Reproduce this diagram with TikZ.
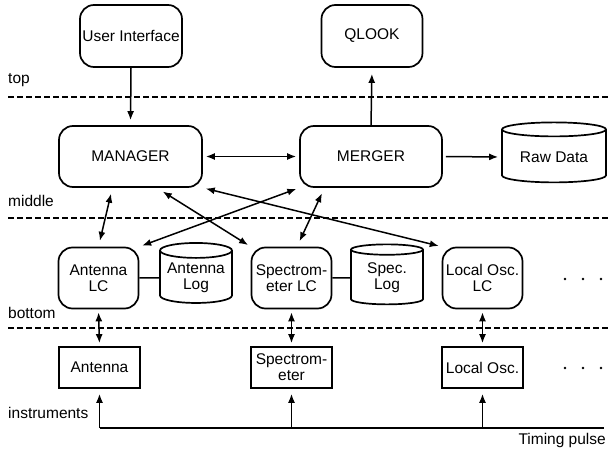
\documentclass[tikz,border=0pt]{standalone}
\usepackage{fontspec}
\setmainfont{Liberation Sans}
\usetikzlibrary{arrows.meta,shapes.geometric}

\begin{document}
\begin{tikzpicture}[x=1pt, y=-1pt,
    every node/.style = {font=\fontsize{15.5}{16}\selectfont},
    proc/.style = {draw, line width=1.7pt, rounded corners=14pt, align=center, inner sep=1pt},
    lc/.style = {proc, minimum width=80pt, minimum height=61pt},
    instr/.style = {draw, line width=1.7pt, align=center, minimum width=81pt, minimum height=41pt, inner sep=1pt},
    store/.style = {draw, cylinder, shape border rotate=90, aspect=0.25, line width=1.7pt, align=center, minimum width=72pt, minimum height=60pt, inner sep=1pt},
    layer/.style = {line width=1.6pt, dash pattern=on 6pt off 3pt},
    lbl/.style = {inner sep=0pt},
    link/.style = {<->, line width=1.5pt, shorten <=3pt, shorten >=3pt},
    >={Latex[length=9pt,width=7pt]}]
    \useasboundingbox (0,0) rectangle (608,449);
    \node[proc, minimum width=102pt, minimum height=62pt] (ui) at (131,36) {User Interface};
    \node[proc, minimum width=101pt, minimum height=62pt] (ql) at (372,36) {QLOOK};
    \node[proc, minimum width=143pt, minimum height=61pt] (mgr) at (130.5,156.5) {MANAGER};
    \node[proc, minimum width=142pt, minimum height=61pt] (mrg) at (371,156.5) {MERGER};
    \node[store, minimum width=104pt, aspect=0.2] (raw) at (554,157) {Raw Data};
    \node[lc] (alc) at (98.5,278) {Antenna\\LC};
    \node[store] (alog) at (196,278) {Antenna\\Log};
    \node[lc] (slc) at (291.5,278) {Spectrom-\\eter LC};
    \node[store] (slog) at (387,278) {Spec.\\Log};
    \node[lc] (lolc) at (482.5,278) {Local Osc.\\LC};
    \node[instr] (ant) at (99.5,367.5) {Antenna};
    \node[instr] (spm) at (291.5,367.5) {Spectrom-\\eter};
    \node[instr] (lo) at (482.5,367.5) {Local Osc.};
    \node[lbl, anchor=base west] (top) at (8,84) {top};
    \node[lbl, anchor=base west] (mid) at (8,207) {middle};
    \node[lbl, anchor=base west] (bot) at (8,318) {bottom};
    \node[lbl, anchor=base west] (ins) at (8,418) {instruments};
    \node[lbl, anchor=base east] (tp) at (606,444) {Timing pulse};
    \coordinate (tl) at (99.5,428);
    \coordinate (tr) at (604,428);
    \draw[layer] (8,97) -- (608,97);
    \draw[layer] (8,218) -- (608,218);
    \draw[layer] (8,328) -- (608,328);
    \foreach \x in {565,583,601} {
        \fill (\x,279) circle (1.4pt);
        \fill (\x,368) circle (1.4pt);
    }
    \draw[->, line width=1.5pt, shorten >=5pt] (ui.south) -- (mgr.north);
    \draw[->, line width=1.5pt, shorten >=6pt] (mrg.north) -- (ql.south);
    \draw[link] (mgr.east) -- (mrg.west);
    \draw[->, line width=1.5pt, shorten <=3pt, shorten >=3pt] (mrg.east) -- (raw.west);
    \draw[link, shorten <=6pt, shorten >=6pt] (mgr.240) -- (alc.north);
    \draw[link] (mrg.south west) -- (alc.north east);
    \draw[link, shorten <=7pt] (mgr.310) -- (slc.north west);
    \draw[link, shorten <=6pt, shorten >=6pt] (mrg.214) -- (slc.80);
    \draw[link] (mgr.south east) -- (lolc.north west);
    \draw[line width=1.5pt] (alc.east) -- (alog.west);
    \draw[line width=1.5pt] (slc.east) -- (slog.west);
    \draw[link] (alc.south) -- (ant.north);
    \draw[link] (slc.south) -- (spm.north);
    \draw[link] (lolc.south) -- (lo.north);
    \draw[line width=1.5pt] (tl) -- (tr);
    \draw[->, line width=1.5pt, shorten >=5pt] (tl) -- (ant.south);
    \draw[->, line width=1.5pt, shorten >=5pt] (spm.south |- tl) -- (spm.south);
    \draw[->, line width=1.5pt, shorten >=5pt] (lo.south |- tl) -- (lo.south);
\end{tikzpicture}
\end{document}
